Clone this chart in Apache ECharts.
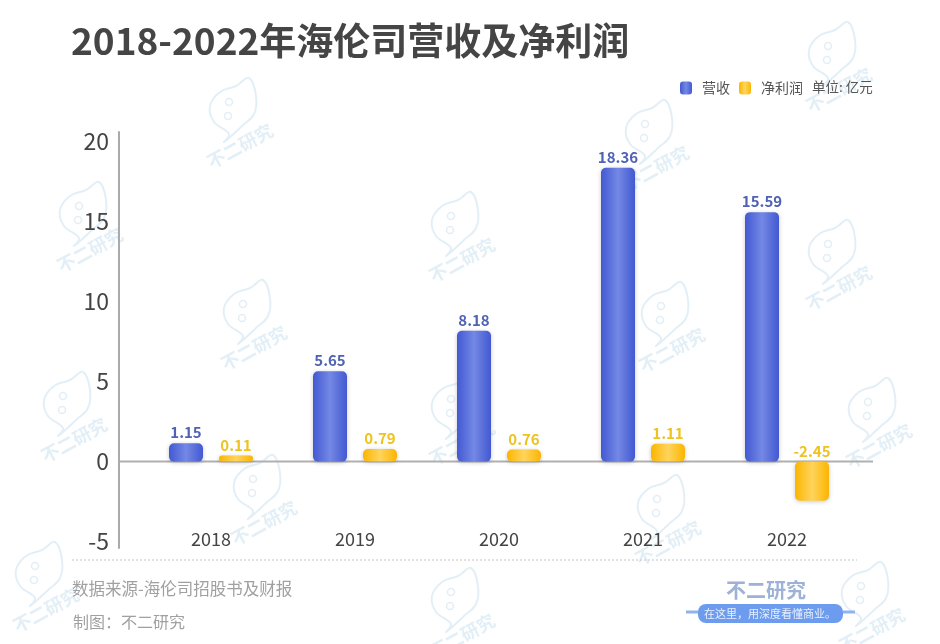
<!DOCTYPE html>
<html><head><meta charset="utf-8">
<style>html,body{margin:0;padding:0;background:#fff}#c{width:940px;height:644px}</style>
<script src="https://cdn.jsdelivr.net/npm/echarts@6/dist/echarts.min.js"></script>
</head><body><div id="c"></div>
<script>
const years = ['2018','2019','2020','2021','2022'];
const revenue = [1.15,5.65,8.18,18.36,15.59];
const profit = [0.11,0.79,0.76,1.11,-2.45];
const yTicks = [-5,0,5,10,15,20];
const FONT = '"Noto Sans CJK SC","Noto Sans",sans-serif';
const marks = [[234,112],[833,56],[650,134],[84,216],[456,226],[833,254],[248,314],[666,316],[68,406],[456,409],[873,412],[258,489],[662,509],[40,576],[456,602],[866,596]];
const blob = [[-5,22],[-20,10],[-24,-6],[-14,-20],[2,-26],[15,-34],[22,-16],[20,2],[8,14],[-10,30]];
function mark(x,y){
  const c='#e3eff7';
  return {type:'group',x:x,y:y,silent:true,z:-10,children:[
    {type:'polygon',shape:{points:blob,smooth:0.4},style:{fill:'none',stroke:c,lineWidth:2}},
    {type:'circle',shape:{cx:-5,cy:-10,r:3.5},style:{fill:'none',stroke:c,lineWidth:1.6}},
    {type:'circle',shape:{cx:-6,cy:4,r:3.5},style:{fill:'none',stroke:c,lineWidth:1.6}},
    {type:'text',x:6,y:34,rotation:0.5,style:{text:'不二研究',fill:c,font:'bold 18px '+FONT,align:'center',verticalAlign:'middle'}}
  ]};
}
const barStyle=(edge,mid)=>({
  borderRadius:5,
  shadowColor:'rgba(0,0,0,0.22)',shadowBlur:4,shadowOffsetY:1,
  color:{type:'linear',x:0,y:0,x2:1,y2:0,colorStops:[{offset:0,color:edge},{offset:0.5,color:mid},{offset:1,color:edge}]}
});
const chart = echarts.init(document.getElementById('c'),null,{renderer:'canvas'});
chart.setOption({
  animation:false,
  backgroundColor:'#fff',
  title:{text:'2018-2022年海伦司营收及净利润',left:66,top:17,textStyle:{fontFamily:FONT,fontSize:37,fontWeight:'bold',color:'#454545'}},
  legend:{data:['营收','净利润'],left:675,top:76,itemWidth:12,itemHeight:13,itemGap:9,icon:'roundRect',
    textStyle:{fontFamily:FONT,fontSize:14,color:'#555',padding:[0,0,0,5]}},
  grid:{left:139,right:81,top:132,bottom:96},
  xAxis:{type:'category',data:years,axisLine:{show:false,onZero:false},axisTick:{show:false},
    axisLabel:{margin:-18,fontFamily:FONT,fontSize:18,color:'#444'}},
  yAxis:{type:'value',min:-5.4,max:20.6,offset:20,splitLine:{show:false},
    axisLine:{show:true,onZero:false,lineStyle:{color:'#aaa',width:2}},
    axisTick:{show:false},
    axisLabel:{customValues:yTicks,margin:10,fontFamily:FONT,fontSize:23,color:'#444'}},
  series:[
    {name:'营收',type:'bar',data:revenue,barWidth:34,barGap:'47%',z:3,
      itemStyle:barStyle('#4259d2','#7488e4'),
      label:{show:true,position:'top',distance:3,fontFamily:FONT,fontSize:15,fontWeight:'bold',color:'#4f62b5'}},
    {name:'净利润',type:'bar',data:profit,barWidth:34,barMinHeight:6,z:3,
      itemStyle:barStyle('#fbb500','#ffd45c'),
      label:{show:true,position:'top',distance:3,fontFamily:FONT,fontSize:15,fontWeight:'bold',color:'#eec221'}}
  ]
});
const zeroY = chart.convertToPixel({yAxisIndex:0},0);
const unitText = '单位: 亿元';
chart.setOption({
  graphic:{elements:[
    ...marks.map(m=>mark(m[0],m[1])),
    {type:'line',z:1,silent:true,shape:{x1:119,y1:zeroY,x2:873,y2:zeroY},style:{stroke:'#b0b0b0',lineWidth:2}},
    {type:'text',silent:true,x:812,y:87,style:{text:unitText,fill:'#555',font:'13.5px '+FONT,verticalAlign:'middle'}},
    {type:'line',silent:true,shape:{x1:72,y1:560,x2:857,y2:560},style:{stroke:'#c4c4c4',lineWidth:1,lineDash:[2,2]}},
    {type:'text',silent:true,x:72,y:589,style:{text:'数据来源-海伦司招股书及财报',fill:'#a0a0a0',font:'16.5px '+FONT,verticalAlign:'middle'}},
    {type:'text',silent:true,x:73,y:622,style:{text:'制图：不二研究',fill:'#a0a0a0',font:'16px '+FONT,verticalAlign:'middle'}},
    {type:'text',silent:true,x:766,y:590,style:{text:'不二研究',fill:'#9db2d6',font:'bold 20px '+FONT,align:'center',verticalAlign:'middle'}},
    {type:'rect',silent:true,shape:{x:698,y:604,width:145,height:19,r:8},style:{fill:'#6d9cee'}},
    {type:'line',silent:true,shape:{x1:686,y1:612,x2:698,y2:612},style:{stroke:'#8fb3ef',lineWidth:3}},
    {type:'line',silent:true,shape:{x1:843,y1:612,x2:855,y2:612},style:{stroke:'#8fb3ef',lineWidth:3}},
    {type:'text',silent:true,x:770,y:614,style:{text:'在这里，用深度看懂商业。',fill:'#e8f0ff',font:'11px '+FONT,align:'center',verticalAlign:'middle'}}
  ]}
});
</script></body></html>
